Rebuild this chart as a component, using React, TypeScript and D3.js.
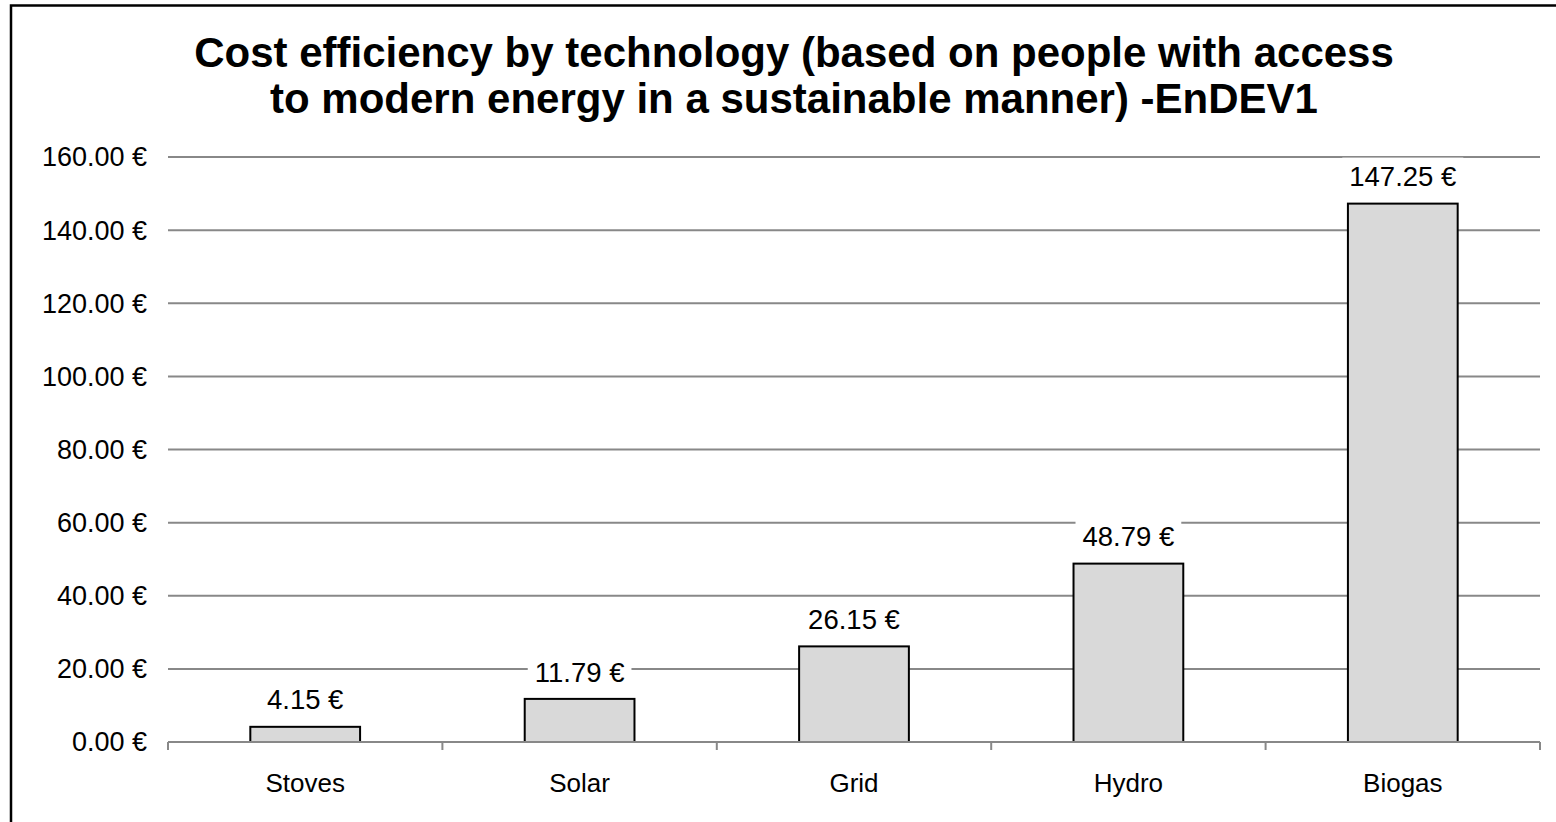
import React, { useEffect, useRef } from "react";
import * as d3 from "d3";

const categories = ["Stoves", "Solar", "Grid", "Hydro", "Biogas"];
const values = [4.15, 11.79, 26.15, 48.79, 147.25];
const yTicks = [0, 20, 40, 60, 80, 100, 120, 140, 160];
const titleLines = [
  "Cost efficiency by technology (based on people with access",
  "to modern energy in a sustainable manner) -EnDEV1",
];

const W = 1556;
const H = 822;
const FONT = "'Liberation Sans', Arial, sans-serif";

export default function App() {
  const ref = useRef<SVGSVGElement>(null);

  useEffect(() => {
    const svg = d3.select(ref.current);
    svg.selectAll("*").remove();

    const left = 168, right = 1540, top = 157, bottom = 742;
    const x = d3.scaleBand<string>().domain(categories).range([left, right]).paddingInner(0.6).paddingOuter(0.3);
    const xb = d3.scaleBand<string>().domain(categories).range([left, right]);
    const y = d3.scaleLinear().domain([0, 160]).range([bottom, top]);

    svg.append("rect").attr("x", 0).attr("y", 0).attr("width", W).attr("height", H).attr("fill", "#fff");
    // outer border (left + top visible)
    svg.append("rect").attr("x", 11).attr("y", 5.5).attr("width", W + 20).attr("height", H + 20)
      .attr("fill", "none").attr("stroke", "#000").attr("stroke-width", 2.5);

    // title
    const t = svg.append("text").attr("text-anchor", "middle")
      .attr("font-family", FONT).attr("font-weight", "bold").attr("font-size", 42).attr("fill", "#000");
    titleLines.forEach((l, i) => {
      t.append("tspan").attr("x", 794).attr("y", 67 + i * 46).text(l);
    });

    // gridlines
    svg.append("g").selectAll("line").data(yTicks.filter(d => d > 0)).join("line")
      .attr("x1", left).attr("x2", right).attr("y1", d => y(d)).attr("y2", d => y(d))
      .attr("stroke", "#888").attr("stroke-width", 2);

    // y tick labels
    svg.append("g").selectAll("text").data(yTicks).join("text")
      .attr("x", 147).attr("y", d => y(d)).attr("dy", "0.35em").attr("text-anchor", "end")
      .attr("font-family", FONT).attr("font-size", 27).attr("fill", "#000")
      .text(d => d.toFixed(2) + " €");

    // bars
    svg.append("g").selectAll("rect").data(values).join("rect")
      .attr("x", (d, i) => x(categories[i])!)
      .attr("y", d => y(d))
      .attr("width", x.bandwidth())
      .attr("height", d => bottom - y(d))
      .attr("fill", "#d9d9d9").attr("stroke", "#000").attr("stroke-width", 2);

    // x axis
    svg.append("line").attr("x1", left).attr("x2", right).attr("y1", bottom).attr("y2", bottom)
      .attr("stroke", "#888").attr("stroke-width", 2);
    const bounds = categories.map(c => xb(c)!).concat([right]);
    svg.append("g").selectAll("line").data(bounds).join("line")
      .attr("x1", d => d).attr("x2", d => d).attr("y1", bottom).attr("y2", bottom + 8)
      .attr("stroke", "#888").attr("stroke-width", 2);
    svg.append("g").selectAll("text").data(categories).join("text")
      .attr("x", d => xb(d)! + xb.bandwidth() / 2).attr("y", 783).attr("dy", "0.35em")
      .attr("text-anchor", "middle").attr("font-family", FONT).attr("font-size", 26).attr("fill", "#000")
      .text(d => d);

    // data labels with white boxes
    const lg = svg.append("g");
    values.forEach((v, i) => {
      const cx = x(categories[i])! + x.bandwidth() / 2;
      const cy = y(v) - 27;
      const g = lg.append("g");
      const r = g.append("rect").attr("fill", "#fff");
      const tx = g.append("text").attr("x", cx).attr("y", cy).attr("dy", "0.35em")
        .attr("text-anchor", "middle").attr("font-family", FONT).attr("font-size", 27.5).attr("fill", "#000")
        .text(v.toFixed(2) + " €");
      const w = (tx.node() as SVGTextElement).getComputedTextLength();
      r.attr("x", cx - w / 2 - 7).attr("y", cy - 19).attr("width", w + 14).attr("height", 38);
    });
  }, []);

  return <svg ref={ref} width={W} height={H} style={{ display: "block", position: "absolute", left: 0, top: 0 }} />;
}
